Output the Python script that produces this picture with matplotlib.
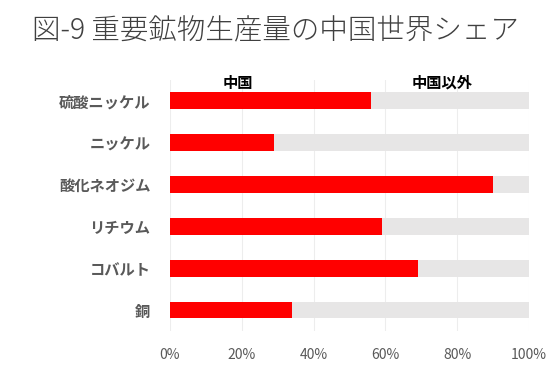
import matplotlib
matplotlib.use("Agg")
import matplotlib.pyplot as plt
from matplotlib.ticker import PercentFormatter

plt.rcParams['font.family'] = ['Noto Sans CJK JP', 'DejaVu Sans']

categories = ["硫酸ニッケル", "ニッケル", "酸化ネオジム", "リチウム", "コバルト", "銅"]
china = [56, 29, 90, 59, 69, 34]
others = [100 - v for v in china]
series_names = ["中国", "中国以外"]
xticks = [0, 20, 40, 60, 80, 100]

fig = plt.figure(figsize=(5.5, 3.66), dpi=100)
ax = fig.add_axes([0.309, 0.0956, 0.653, 0.686])

y = list(range(len(categories)))
ax.barh(y, china, height=0.4, color="#FF0000", zorder=3)
ax.barh(y, others, left=china, height=0.4, color="#E7E6E6", zorder=3)

ax.set_ylim(len(categories) - 0.5, -0.5)
ax.set_xlim(0, 100)
ax.set_yticks(y)
ax.set_yticklabels(categories, fontsize=11, fontweight="bold", color="#595959")
ax.set_xticks(xticks)
ax.xaxis.set_major_formatter(PercentFormatter(decimals=0))
ax.tick_params(axis="x", labelsize=10, labelcolor="#595959", length=0, pad=12)
ax.tick_params(axis="y", length=0, pad=14)
ax.grid(axis="x", color="#EDEDED", linewidth=0.8, zorder=0)
for s in ax.spines.values():
    s.set_visible(False)

ax.text(0.189, 0.988, series_names[0], transform=ax.transAxes, ha="center", va="center",
        fontsize=11, fontweight="bold", color="#000000", zorder=5)
ax.text(0.759, 0.988, series_names[1], transform=ax.transAxes, ha="center", va="center",
        fontsize=11, fontweight="bold", color="#000000", zorder=5)

fig.text(0.5, 0.918, "図-9 重要鉱物生産量の中国世界シェア", ha="center", va="center",
         fontsize=20.5, fontweight="light", color="#404040")

fig.savefig("out.png", dpi=100)
